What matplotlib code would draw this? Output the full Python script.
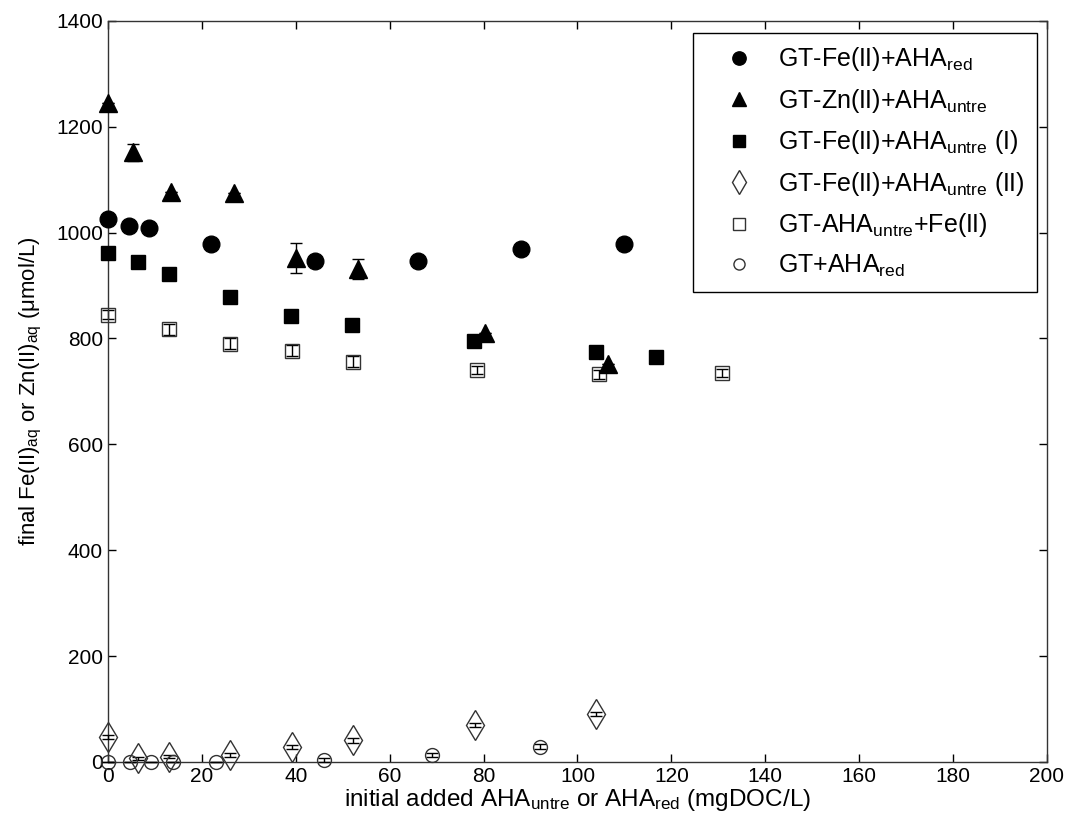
import matplotlib
matplotlib.use("Agg")
import matplotlib.pyplot as plt

plt.rcParams['font.family'] = ['Liberation Sans', 'DejaVu Sans']
plt.rcParams['mathtext.fontset'] = 'custom'
plt.rcParams['mathtext.rm'] = 'Liberation Sans'
plt.rcParams['mathtext.it'] = 'Liberation Sans:italic'
plt.rcParams['mathtext.default'] = 'rm'

# GT-Fe(II)+AHA_red
x_fe_red = [0, 4.4, 8.8, 22, 44, 66, 88, 110]
y_fe_red = [1025, 1013, 1008, 979, 946, 946, 969, 978]

# GT-Zn(II)+AHA_untre
x_zn = [0, 5.3, 13.4, 26.8, 40, 53.2, 80.2, 106.6]
y_zn = [1245, 1152, 1076, 1075, 952, 931, 810, 751]
e_zn = [0, 16, 0, 0, 29, 19, 0, 0]

# GT-Fe(II)+AHA_untre (I)
x_fe_u1 = [0, 6.5, 13.1, 26, 39, 51.9, 78, 103.9, 116.7]
y_fe_u1 = [962, 945, 922, 879, 842, 825, 795, 775, 765]

# GT-Fe(II)+AHA_untre (II)
x_fe_u2 = [0, 6.5, 13.1, 26, 39.1, 52.2, 78.1, 104]
y_fe_u2 = [47, 7, 10, 13, 28, 41, 70, 90]
e_fe_u2 = [4, 3, 3, 3, 4, 5, 4, 4]

# GT-AHA_untre+Fe(II)
x_aha_fe = [0, 13.1, 26, 39.1, 52.2, 78.5, 104.6, 130.7]
y_aha_fe = [845, 817, 790, 777, 756, 740, 732, 735]
e_aha_fe = [8, 10, 10, 10, 10, 8, 8, 8]

# GT+AHA_red
x_gt_red = [0, 4.6, 9.2, 13.8, 23, 46, 69, 92]
y_gt_red = [0, 0, 0, 0, 0, 3, 13, 29]
e_gt_red = [0, 0, 0, 0, 0, 4, 3, 5]

fig = plt.figure(figsize=(10.67, 8.30), dpi=100)
ax = fig.add_axes([0.1012, 0.082, 0.8800, 0.8928])

eb = dict(ecolor='black', elinewidth=1, capsize=4, capthick=1, linestyle='none', clip_on=False)

series = []
series.append(ax.errorbar(x_fe_red, y_fe_red, marker='o', ms=12, mfc='black', mec='black',
                          label=r'GT-Fe(II)+AHA$_{red}$', zorder=3, **eb))
series.append(ax.errorbar(x_zn, y_zn, yerr=e_zn, marker='^', ms=13, mfc='black', mec='black',
                          label=r'GT-Zn(II)+AHA$_{untre}$', zorder=4, **eb))
series.append(ax.errorbar(x_fe_u1, y_fe_u1, marker='s', ms=10, mfc='black', mec='black',
                          label=r'GT-Fe(II)+AHA$_{untre}$ (I)', zorder=3, **eb))
series.append(ax.errorbar(x_fe_u2, y_fe_u2, yerr=e_fe_u2, marker='d', ms=15, mfc='none',
                          mec='#333333', mew=1, label=r'GT-Fe(II)+AHA$_{untre}$ (II)', zorder=3, **eb))
series.append(ax.errorbar(x_aha_fe, y_aha_fe, yerr=e_aha_fe, marker='s', ms=10, mfc='none',
                          mec='#333333', mew=1, label=r'GT-AHA$_{untre}$+Fe(II)', zorder=2, **eb))
series.append(ax.errorbar(x_gt_red, y_gt_red, yerr=e_gt_red, marker='o', ms=10, mfc='none',
                          mec='#333333', mew=1, label=r'GT+AHA$_{red}$', zorder=3, **eb))

ax.set_xlim(0, 200)
ax.set_ylim(0, 1400)
ax.set_xticks(range(0, 201, 20))
ax.set_yticks(range(0, 1401, 200))
ax.tick_params(direction='in', top=True, right=True, length=6, width=1, labelsize=15)
for s in ax.spines.values():
    s.set_linewidth(1)
    s.set_color('#333333')

ax.set_xlabel(r'initial added AHA$_{untre}$ or AHA$_{red}$ (mgDOC/L)', fontsize=17.5, labelpad=1)
ax.set_ylabel(r'final Fe(II)$_{aq}$ or Zn(II)$_{aq}$ (μmol/L)', fontsize=16, labelpad=9,
              family=['Liberation Sans Narrow', 'Liberation Sans'])

handles = [c[0] for c in series]
labels = [c.get_label() for c in series]
leg = ax.legend(handles, labels, loc='upper right', bbox_to_anchor=(0.9894, 0.9838), fontsize=18,
                frameon=True, fancybox=False, edgecolor='black', framealpha=1, labelspacing=0.54,
                handletextpad=0.2, borderpad=0.5, handlelength=2.7, markerscale=0.8,
                borderaxespad=0)
leg.get_frame().set_linewidth(1)

fig.savefig('out.png', dpi=100)
